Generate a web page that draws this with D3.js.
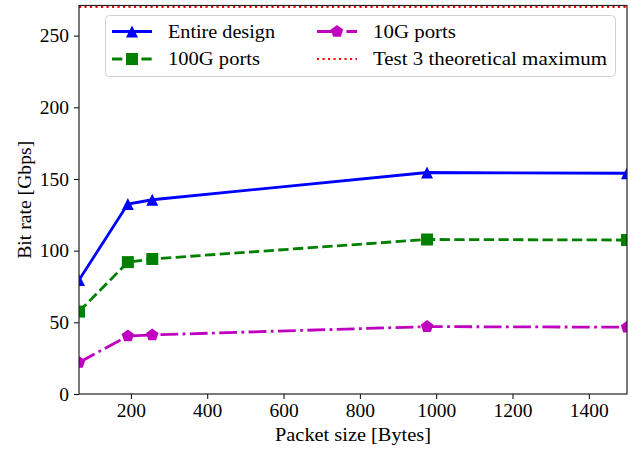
<!DOCTYPE html>
<html>
<head>
<meta charset="utf-8">
<script src="https://cdn.jsdelivr.net/npm/d3@7"></script>
<style>
  body { margin: 0; background: #fff; }
</style>
</head>
<body>
<div id="chart"></div>
<script>
  // packet sizes (x) and measured bit rates (Gbps)
  let packetSizes = [64, 192, 256, 976, 1500];
  let entireDesign = [79.5, 132.5, 135.5, 154.5, 154];
  let ports100G = [57.5, 92, 94.2, 107.8, 107.4];
  let ports10G = [22, 40.5, 41.2, 47, 46.6];
  let theoreticalMax = 270;

  let xTicks = [200, 400, 600, 800, 1000, 1200, 1400];
  let yTicks = [0, 50, 100, 150, 200, 250];

  let serif = "'Liberation Serif', 'Times New Roman', serif";
  let fontSize = '19.5px';

  let series = [
    { name: 'Entire design', values: entireDesign, color: '#0000ff', dash: null, marker: 'triangle', len: 107 },
    { name: '100G ports', values: ports100G, color: '#008000', dash: '10.3,4.4', marker: 'square', len: 92 },
    { name: '10G ports', values: ports10G, color: '#bf00bf', dash: '17.8,4.4,2.8,4.4', marker: 'pentagon', len: 83 }
  ];
  let maxSeries = { name: 'Test 3 theoretical maximum', color: '#ff0000', dash: '2.1,3.4', marker: null, len: 234 };

  let width = 631, height = 449;
  let margin = { top: 5.5, right: 4, bottom: 55, left: 79 };

  let svg = d3.select('#chart').append('svg')
              .attr('width', width).attr('height', height);

  let x = d3.scaleLinear().domain([64, 1500]).range([margin.left, width - margin.right]);
  let y = d3.scaleLinear().domain([0, 271]).range([height - margin.bottom, margin.top]);

  // маркеры в стиле matplotlib, ms - размер в пикселях
  function markerPath(type, ms) {
    let r = ms / 2, pts;
    if (type === 'triangle') pts = [[0, -r], [-r, r], [r, r]];
    else if (type === 'square') pts = [[-r, -r], [r, -r], [r, r], [-r, r]];
    else pts = d3.range(5).map(i => {
      let a = -Math.PI / 2 + i * 2 * Math.PI / 5;
      return [r * Math.cos(a), r * Math.sin(a)];
    });
    return 'M' + pts.map(p => p.join(',')).join('L') + 'Z';
  }
  let markerSize = m => m === 'pentagon' ? 13 : 12;

  svg.append('clipPath').attr('id', 'plot-clip').append('rect')
     .attr('x', margin.left).attr('y', margin.top)
     .attr('width', width - margin.left - margin.right)
     .attr('height', height - margin.top - margin.bottom);

  let plot = svg.append('g').attr('clip-path', 'url(#plot-clip)');

  let line = d3.line().x((d, i) => x(packetSizes[i])).y(d => y(d));

  series.forEach(s => {
    plot.append('path').attr('d', line(s.values))
        .attr('fill', 'none').attr('stroke', s.color).attr('stroke-width', 2.8)
        .attr('stroke-dasharray', s.dash);
    plot.selectAll(null).data(s.values).enter().append('path')
        .attr('d', markerPath(s.marker, markerSize(s.marker)))
        .attr('transform', (d, i) => `translate(${x(packetSizes[i])},${y(d)})`)
        .attr('fill', s.color);
  });

  // теоретический максимум
  plot.append('line')
      .attr('x1', margin.left).attr('x2', width - margin.right)
      .attr('y1', y(theoreticalMax)).attr('y2', y(theoreticalMax))
      .attr('stroke', maxSeries.color).attr('stroke-width', 2).attr('stroke-dasharray', maxSeries.dash);

  // оси
  let xAxis = svg.append('g').attr('transform', `translate(0,${height - margin.bottom})`)
                 .call(d3.axisBottom(x).tickValues(xTicks).tickFormat(d3.format('d'))
                         .tickSize(5).tickPadding(4.5));
  let yAxis = svg.append('g').attr('transform', `translate(${margin.left},0)`)
                 .call(d3.axisLeft(y).tickValues(yTicks).tickSize(5).tickPadding(5));

  [xAxis, yAxis].forEach(a => {
    a.select('.domain').remove();
    a.selectAll('text').style('font-size', fontSize).style('font-family', serif).attr('fill', '#000');
    a.selectAll('line').attr('stroke', '#000').attr('stroke-width', 1);
  });

  svg.append('rect')
     .attr('x', margin.left).attr('y', margin.top)
     .attr('width', width - margin.left - margin.right)
     .attr('height', height - margin.top - margin.bottom)
     .attr('fill', 'none').attr('stroke', '#222').attr('stroke-width', 1.2);

  svg.append('text').text('Packet size [Bytes]')
     .attr('x', (margin.left + width - margin.right) / 2).attr('y', 440.5)
     .attr('text-anchor', 'middle').attr('textLength', 156).attr('lengthAdjust', 'spacingAndGlyphs')
     .style('font-size', fontSize).style('font-family', serif);

  svg.append('text').text('Bit rate [Gbps]')
     .attr('transform', `translate(30.5,${(margin.top + height - margin.bottom) / 2}) rotate(-90)`)
     .attr('text-anchor', 'middle').attr('textLength', 118).attr('lengthAdjust', 'spacingAndGlyphs')
     .style('font-size', fontSize).style('font-family', serif);

  // легенда
  let legend = svg.append('g');
  legend.append('rect').attr('x', 105.5).attr('y', 15.5).attr('width', 510).attr('height', 61)
        .attr('rx', 4).attr('fill', '#fff').attr('fill-opacity', 0.8)
        .attr('stroke', '#d0d0d0').attr('stroke-width', 1);

  let legendItems = [
    { s: series[0], col: 0, row: 0 },
    { s: series[1], col: 0, row: 1 },
    { s: series[2], col: 1, row: 0 },
    { s: maxSeries, col: 1, row: 1 }
  ];

  let items = legend.selectAll('g.item').data(legendItems).enter().append('g')
                    .attr('transform', d => `translate(${d.col ? 317 : 112},${d.row ? 59 : 31.5})`);

  items.append('line').attr('x1', 0).attr('x2', 40).attr('y1', 0).attr('y2', 0)
       .attr('stroke', d => d.s.color)
       .attr('stroke-width', d => d.s.marker ? 2.8 : 2)
       .attr('stroke-dasharray', d => d.s.dash);

  items.filter(d => d.s.marker).append('path')
       .attr('d', d => markerPath(d.s.marker, markerSize(d.s.marker)))
       .attr('transform', 'translate(20,0)')
       .attr('fill', d => d.s.color);

  items.append('text').text(d => d.s.name)
       .attr('x', 56).attr('y', 0).attr('dy', '0.33em')
       .attr('textLength', d => d.s.len).attr('lengthAdjust', 'spacingAndGlyphs')
       .style('font-size', fontSize).style('font-family', serif);
</script>
</body>
</html>
